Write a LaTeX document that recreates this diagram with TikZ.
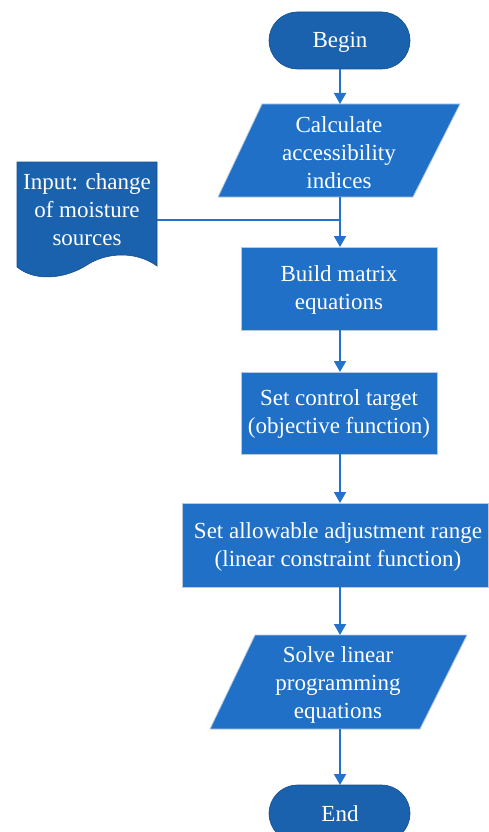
\documentclass[tikz,border=0pt]{standalone}
\usepackage{fontspec}
\setmainfont{Liberation Serif}
\usetikzlibrary{arrows.meta}
\definecolor{boxblue}{RGB}{31,112,198}
\definecolor{darkblue}{RGB}{26,97,174}
\definecolor{lineblue}{RGB}{35,115,202}
\definecolor{edgegray}{RGB}{185,200,220}
\tikzset{
  txt/.style={text=white, align=center, font=\fontsize{23}{28}\selectfont, inner sep=0pt},
  shp/.style={fill=boxblue, draw=edgegray, line width=0.8pt},
  dshp/.style={fill=darkblue, draw=darkblue!80!black, line width=0.6pt},
  conn/.style={draw=lineblue, line width=1.8pt, -{Triangle[length=11pt,width=12pt]}},
  plain/.style={draw=lineblue, line width=1.8pt}
}
\begin{document}
\begin{tikzpicture}[x=1pt,y=-1pt]
\useasboundingbox (0,0) rectangle (489,832);
% Begin
\draw[dshp, rounded corners=28.5pt] (269,12) rectangle (410,69);
\node[txt] (begin) at (340,42.5) {Begin};
\coordinate (beginb) at (340,69);
% Calculate parallelogram
\draw[shp] (262,104) -- (460,104) -- (413,197) -- (218,197) -- cycle;
\node[txt] (calc) at (339,153) {Calculate\\accessibility\\indices};
\coordinate (calct) at (340,104);
\coordinate (calcb) at (340,197);
% Input document
\draw[dshp] (17,162) -- (157,162) -- (157,266)
  .. controls (135,250) and (105,253) .. (87,265)
  .. controls (65,279) and (35,282) .. (17,267) -- cycle;
\node[txt] (input) at (87,210) {Input: change\\of moisture\\sources};
\coordinate (inputr) at (157,220);
% Build matrix
\draw[shp] (241,247) rectangle (437,330);
\node[txt] (build) at (339,290) {Build matrix\\equations};
\coordinate (buildt) at (340,247);
\coordinate (buildb) at (340,330);
\coordinate (join) at (340,220);
% Set control target
\draw[shp] (241,372) rectangle (437,454);
\node[txt] (ctrl) at (339,414) {Set control target\\(objective function)};
\coordinate (ctrlt) at (340,372);
\coordinate (ctrlb) at (340,454);
% Set allowable
\draw[shp] (182,503) rectangle (488,587);
\node[txt] (allow) at (338,547) {Set allowable adjustment range\\(linear constraint function)};
\coordinate (allowt) at (340,503);
\coordinate (allowb) at (340,587);
% Solve parallelogram
\draw[shp] (255,635) -- (467,635) -- (420,729) -- (210,729) -- cycle;
\node[txt] (solve) at (338,685) {Solve linear\\programming\\equations};
\coordinate (solvet) at (340,635);
\coordinate (solveb) at (340,729);
% End
\draw[dshp, rounded corners=28.5pt] (269,785) rectangle (410,842);
\node[txt] (endn) at (340,814) {End};
\coordinate (endt) at (340,785);
% connectors
\draw[conn] (beginb) -- (calct);
\draw[plain] (inputr) -- (join);
\draw[conn] (calcb) -- (buildt);
\draw[conn] (buildb) -- (ctrlt);
\draw[conn] (ctrlb) -- (allowt);
\draw[conn] (allowb) -- (solvet);
\draw[conn] (solveb) -- (endt);
\end{tikzpicture}
\end{document}
